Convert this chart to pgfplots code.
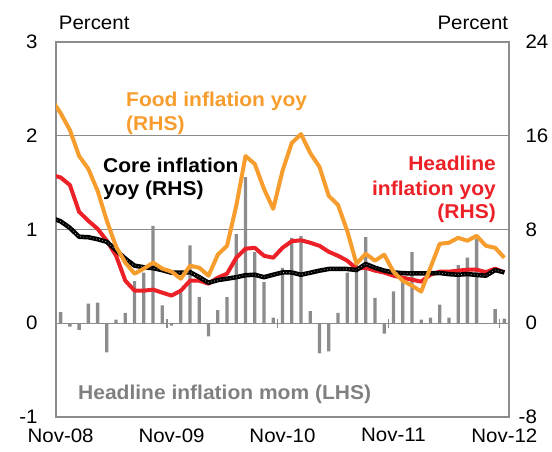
\documentclass[border=0pt]{standalone}
\usepackage{fontspec}
\setmainfont{Liberation Sans}[FakeStretch=1.05]
\usepackage{pgfplots}
\usepackage{pgfplotstable}
\pgfplotsset{compat=1.18}
\definecolor{foodor}{RGB}{247,157,46}
\definecolor{headred}{RGB}{236,32,39}
\definecolor{bargray}{RGB}{140,140,142}
\definecolor{gridgray}{RGB}{140,140,140}
\definecolor{txtgray}{RGB}{128,128,128}

\pgfplotstableread{
i mom
0 0.12
1 -0.035
2 -0.07
3 0.21
4 0.22
5 -0.31
6 0.04
7 0.11
8 0.45
9 0.54
10 1.04
11 0.19
12 -0.025
13 0.33
14 0.83
15 0.28
16 -0.14
17 0.14
18 0.28
19 0.95
20 1.56
21 0.76
22 0.44
23 0.06
24 0.59
25 0.91
26 0.93
27 0.13
28 -0.32
29 -0.30
30 0.11
31 0.54
32 0.65
33 0.92
34 0.27
35 -0.11
36 0.34
37 0.46
38 0.76
39 0.04
40 0.06
41 0.20
42 0.06
43 0.62
44 0.70
45 0.90
46 0.0
47 0.15
48 0.05
}\momtable

\pgfplotstableread{
i food head core
-1 19.12 12.66 9.00
0 17.93 12.44 8.70
1 16.49 11.80 8.14
2 14.27 9.51 7.38
3 13.17 8.74 7.34
4 11.30 8.06 7.17
5 8.74 7.04 6.95
6 6.53 5.76 6.23
7 5.17 3.63 5.51
8 4.23 2.78 4.91
9 4.66 2.78 4.78
10 5.17 2.87 4.70
11 4.66 2.61 4.53
12 4.40 2.36 4.31
13 3.80 2.78 4.31
14 4.91 3.63 4.36
15 4.74 3.63 3.93
16 4.06 3.38 3.46
17 5.85 3.89 3.68
18 6.61 4.23 3.80
19 10.02 5.59 3.93
20 14.27 6.36 4.10
21 13.59 6.44 4.14
22 11.46 5.76 3.93
23 9.76 5.59 4.14
24 13.00 6.44 4.34
25 15.38 7.00 4.33
26 16.14 7.08 4.14
27 14.53 6.87 4.31
28 13.34 6.61 4.49
29 10.87 6.10 4.63
30 10.10 5.76 4.63
31 7.89 5.34 4.63
32 5.08 4.66 4.54
33 5.93 4.74 5.06
34 5.34 4.49 4.74
35 5.85 4.32 4.49
36 4.40 4.06 4.34
37 3.63 3.89 4.27
38 3.21 3.72 4.26
39 2.70 3.55 4.26
40 4.74 4.14 4.27
41 6.78 4.40 4.29
42 6.87 4.40 4.19
43 7.29 4.49 4.14
44 7.04 4.57 4.20
45 7.46 4.57 4.12
46 6.61 4.36 4.06
47 6.44 4.66 4.54
48 5.59 4.32 4.34
}\yoytable

\begin{document}
\begin{tikzpicture}
\begin{axis}[
  scale only axis, width=453pt, height=375pt,
  xmin=-0.5, xmax=48.5, ymin=-1, ymax=3,
  ytick={-1,0,1,2,3},
  yticklabels={-1,0,1,2,3},
  xtick={0,12,24,36,48},
  xticklabels={Nov-08,Nov-09,Nov-10,Nov-11,Nov-12},
  major tick length=0pt,
  ymajorgrids, grid style={gridgray, line width=1.3pt},
  axis line style={gridgray, line width=1.3pt},
  tick label style={font=\fontsize{19.5}{22}\selectfont, text=black},
  /pgf/number format/assume math mode=true,
  yticklabel style={anchor=east, xshift=-15pt},
  xticklabel style={anchor=north, yshift=-8pt},
]
\addplot[ybar, bar width=3.3pt, bar shift=0pt, fill=bargray, draw=none] table[x=i,y=mom]{\momtable};
\draw[gridgray, line width=1.2pt] (axis cs:11.5,-0.05) -- (axis cs:11.5,0.05);
\draw[gridgray, line width=1.2pt] (axis cs:23.5,-0.05) -- (axis cs:23.5,0.05);
\draw[gridgray, line width=1.2pt] (axis cs:35.5,-0.05) -- (axis cs:35.5,0.05);
\draw[gridgray, line width=1.2pt] (axis cs:47.5,-0.05) -- (axis cs:47.5,0.05);
\end{axis}
\begin{axis}[
  scale only axis, width=453pt, height=375pt,
  xmin=-0.5, xmax=48.5, ymin=-8, ymax=24,
  ytick={-8,0,8,16,24},
  yticklabels={\llap{-}8,0,8,16,24},
  axis y line*=right, axis x line=none,
  major tick length=0pt,
  axis line style={gridgray, line width=1.3pt},
  tick label style={font=\fontsize{19.5}{22}\selectfont, text=black},
  yticklabel style={anchor=west, xshift=13pt},
]
\addplot[headred, line width=4pt, line join=round] table[x=i,y=head]{\yoytable};
\addplot[black, line width=4.5pt, line join=round] table[x=i,y=core]{\yoytable};
\addplot[gray!50, line width=0.7pt, dash pattern=on 0.7pt off 2.5pt] table[x=i,y=core]{\yoytable};
\addplot[foodor, line width=4pt, line join=round] table[x=i,y=food]{\yoytable};
\end{axis}
\node[anchor=base west, inner sep=0pt, font=\fontsize{19.5}{22}\selectfont] at (2.7pt,387.7pt) {Percent};
\node[anchor=base east, inner sep=0pt, font=\fontsize{19.5}{22}\selectfont] at (452.3pt,387.7pt) {Percent};
\node[anchor=base west, inner sep=0pt, text=foodor, font=\fontsize{20}{22}\selectfont\bfseries] at (70pt,311pt) {Food inflation yoy};
\node[anchor=base west, inner sep=0pt, text=foodor, font=\fontsize{20}{22}\selectfont\bfseries] at (70pt,287pt) {(RHS)};
\node[anchor=base west, inner sep=0pt, text=black, font=\fontsize{20}{22}\selectfont\bfseries] at (47pt,245pt) {Core inflation};
\node[anchor=base west, inner sep=0pt, text=black, font=\fontsize{20}{22}\selectfont\bfseries] at (47pt,222pt) {yoy (RHS)};
\node[anchor=base east, inner sep=0pt, text=headred, font=\fontsize{20}{22}\selectfont\bfseries] at (440pt,247pt) {Headline};
\node[anchor=base east, inner sep=0pt, text=headred, font=\fontsize{20}{22}\selectfont\bfseries] at (440pt,222pt) {inflation yoy};
\node[anchor=base east, inner sep=0pt, text=headred, font=\fontsize{20}{22}\selectfont\bfseries] at (440pt,198.7pt) {(RHS)};
\node[anchor=base west, inner sep=0pt, text=txtgray, font=\fontsize{20}{22}\selectfont\bfseries] at (22pt,18pt) {Headline inflation mom (LHS)};
\pgfresetboundingbox
\path (-56pt,-34pt) rectangle (496pt,417pt);
\end{tikzpicture}
\end{document}
